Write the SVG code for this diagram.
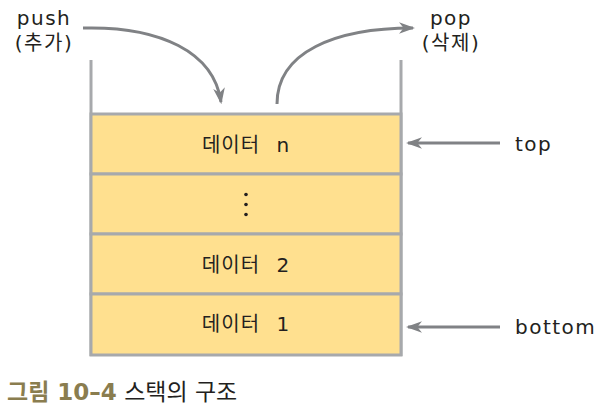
<svg xmlns="http://www.w3.org/2000/svg" width="608" height="407" viewBox="0 0 608 407">
<style>
.lbl{font-family:"DejaVu Sans","Noto Sans CJK KR",sans-serif;font-size:20px;letter-spacing:1.5px;fill:#231f20}
.cl{font-family:"DejaVu Sans","Noto Sans CJK KR",sans-serif;font-size:20px;letter-spacing:1px;word-spacing:9px;fill:#231f20}
.cell{fill:#FFE08F;stroke:#a7a9ac;stroke-width:3}
.wall{stroke:#a7a9ac;stroke-width:3;fill:none}
.arr{stroke:#808285;stroke-width:3;fill:none}
.dot{fill:#231f20}
</style>
<defs>
<marker id="ah" viewBox="0 0 14 10" refX="12" refY="5" markerWidth="5.5" markerHeight="3.9" orient="auto" markerUnits="strokeWidth">
<path d="M0,0 L14,5 L0,10 L4,5 Z" fill="#808285"/>
</marker>
</defs>
<rect width="608" height="407" fill="#fff"/>
<g id="walls">
<line class="wall" x1="91" y1="60" x2="91" y2="356"/>
<line class="wall" x1="401" y1="60" x2="401" y2="356"/>
</g>
<g id="cell-n"><rect class="cell" x="91" y="114" width="310" height="60"/><text class="cl" x="246" y="152" text-anchor="middle">데이터 n</text></g>
<g id="cell-dots"><rect class="cell" x="91" y="174" width="310" height="60"/><circle class="dot" cx="246" cy="194.5" r="1.8"/><circle class="dot" cx="246" cy="204.5" r="1.8"/><circle class="dot" cx="246" cy="214.5" r="1.8"/></g>
<g id="cell-2"><rect class="cell" x="91" y="234" width="310" height="60"/><text class="cl" x="246" y="272" text-anchor="middle">데이터 2</text></g>
<g id="cell-1"><rect class="cell" x="91" y="294" width="310" height="61"/><text class="cl" x="246" y="331" text-anchor="middle">데이터 1</text></g>
<g id="push-label"><text class="lbl" x="44" y="25" text-anchor="middle">push</text><text class="lbl" x="44" y="50" text-anchor="middle">(추가)</text></g>
<g id="pop-label"><text class="lbl" x="451" y="25" text-anchor="middle">pop</text><text class="lbl" x="451" y="50" text-anchor="middle">(삭제)</text></g>
<g id="top-label"><text class="lbl" x="515" y="151">top</text></g>
<g id="bottom-label"><text class="lbl" x="515" y="334">bottom</text></g>
<g id="connectors">
<path class="arr" d="M83,28 C160,26 214,52 221,102" marker-end="url(#ah)"/>
<path class="arr" d="M277,104 C277,52 335,28 413,28" marker-end="url(#ah)"/>
<line class="arr" x1="500" y1="143" x2="408" y2="143" marker-end="url(#ah)"/>
<line class="arr" x1="500" y1="327" x2="408" y2="327" marker-end="url(#ah)"/>
</g>
<g id="caption">
<text x="7" y="400" style="font-family:'DejaVu Sans','Noto Sans CJK KR',sans-serif;font-size:23px"><tspan font-weight="bold" fill="#8a7d4f">그림 10–4</tspan><tspan fill="#231f20"> 스택의 구조</tspan></text>
</g>
</svg>
